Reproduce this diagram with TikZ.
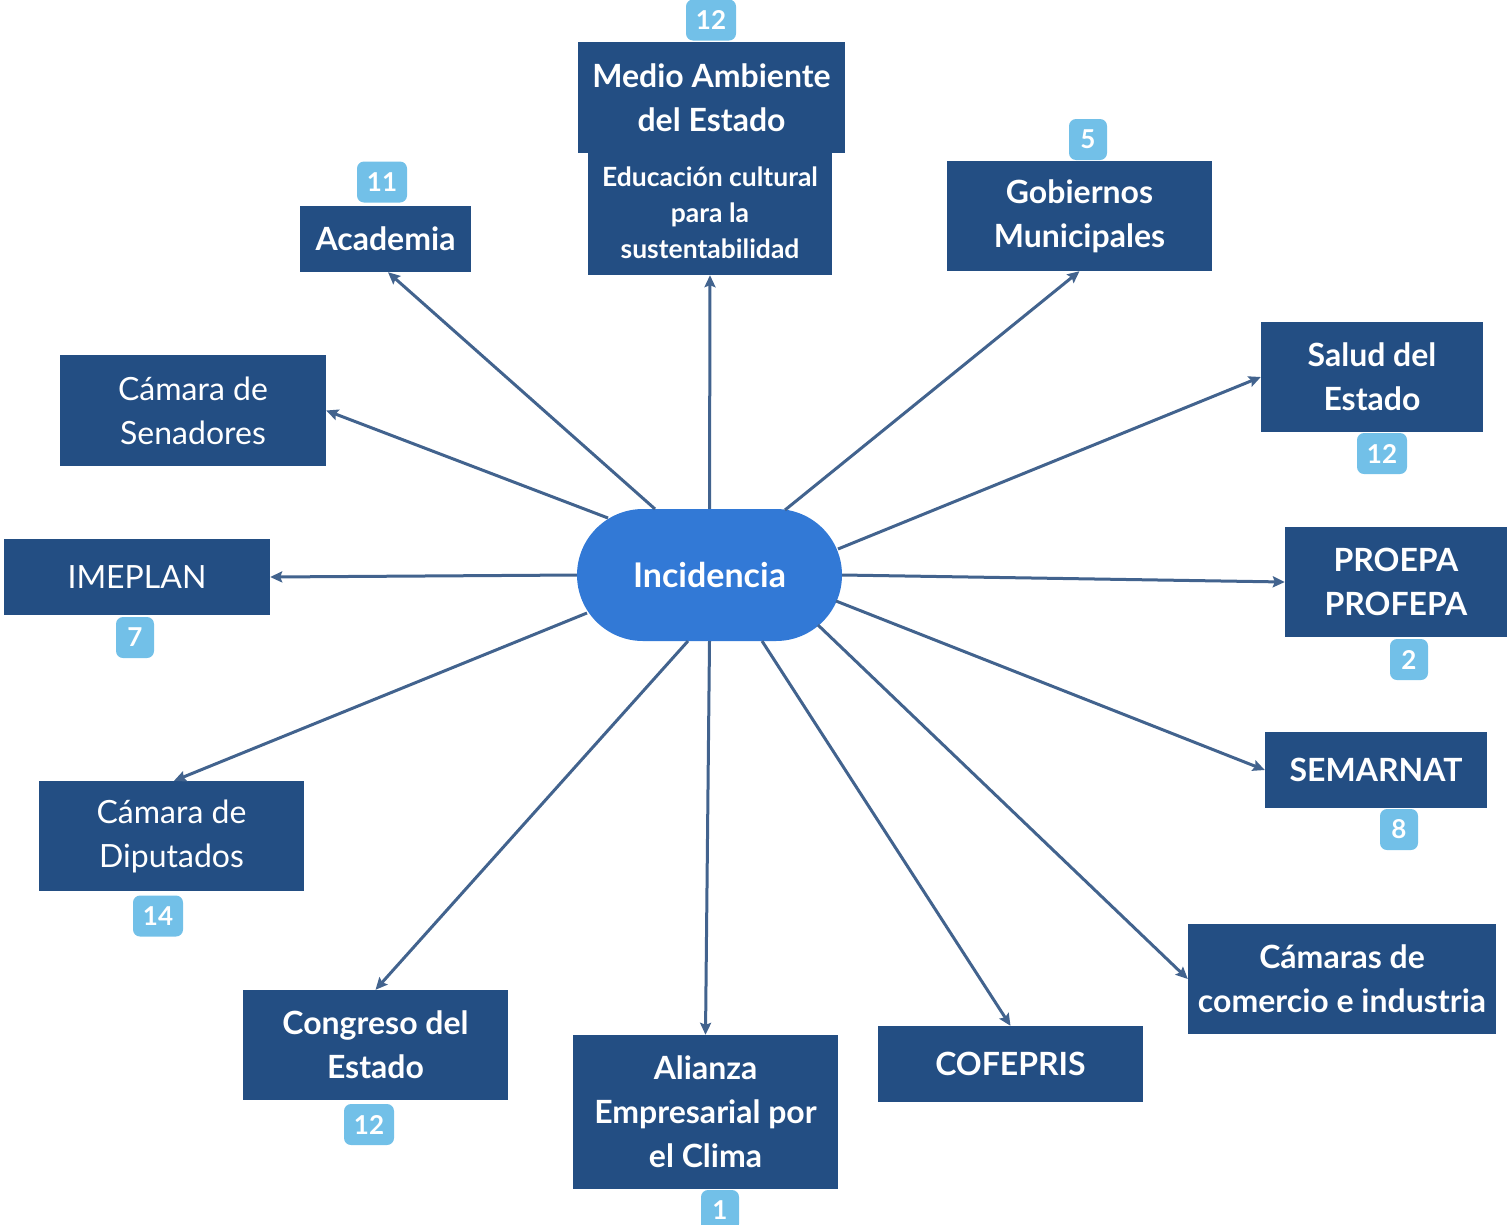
\documentclass[tikz,border=0pt]{standalone}
\usepackage{fontspec}
\setmainfont{Lato}
\usetikzlibrary{arrows.meta,calc}
\definecolor{boxc}{RGB}{35,78,131}
\definecolor{incc}{RGB}{50,121,214}
\definecolor{arrc}{RGB}{66,99,142}
\definecolor{badgec}{RGB}{114,192,232}
\tikzset{
  box/.style={fill=boxc,text=white,inner sep=0pt,align=center,font=\bfseries\fontsize{32}{44}\selectfont},
  boxr/.style={box,font=\fontsize{32}{44}\selectfont},
  badge/.style={fill=badgec,text=white,inner sep=0pt,rounded corners=7pt,minimum height=41pt,font=\bfseries\fontsize{26}{28}\selectfont},
  arr/.style={draw=arrc,line width=3pt,-{Stealth[length=12pt,width=11pt,inset=2pt]}}
}
\begin{document}
\begin{tikzpicture}[x=1pt,y=-1pt]
\useasboundingbox (0,0) rectangle (1510,1224);
% boxes
\node[box,minimum width=267pt,minimum height=111pt] (med) at (711.5,97.5) {Medio Ambiente\\del Estado};
\node[box,minimum width=244pt,minimum height=124pt,font=\bfseries\fontsize{26.5}{36}\selectfont] (edu) at (710,213) {Educación cultural\\para la\\sustentabilidad};
\node[badge,minimum width=50pt] (b1) at (711,20) {12};
\node[box,minimum width=171pt,minimum height=66pt] (aca) at (385.5,239) {Academia};
\node[badge,minimum width=50pt] (b2) at (382,182) {11};
\node[box,minimum width=265pt,minimum height=110pt] (gob) at (1079.5,216) {Gobiernos\\Municipales};
\node[badge,minimum width=38pt] (b3) at (1088,139.5) {5};
\node[box,minimum width=222pt,minimum height=110pt] (sal) at (1372,377) {Salud del\\Estado};
\node[badge,minimum width=50pt] (b4) at (1382,453.5) {12};
\node[box,minimum width=222pt,minimum height=110pt] (pro) at (1396,582) {PROEPA\\PROFEPA};
\node[badge,minimum width=38pt] (b5) at (1409,659.5) {2};
\node[box,minimum width=222pt,minimum height=76pt] (sem) at (1376,770) {SEMARNAT};
\node[badge,minimum width=38pt] (b6) at (1399,829.5) {8};
\node[box,minimum width=308pt,minimum height=110pt] (com) at (1342,979) {Cámaras de\\comercio e industria};
\node[box,minimum width=265pt,minimum height=76pt] (cof) at (1010.5,1064) {COFEPRIS};
\node[box,minimum width=265pt,minimum height=154pt] (ali) at (705.5,1112) {Alianza\\Empresarial por\\el Clima};
\node[badge,minimum width=38pt] (b7) at (720,1210.5) {1};
\node[box,minimum width=265pt,minimum height=110pt] (con) at (375.5,1045) {Congreso del\\Estado};
\node[badge,minimum width=50pt] (b8) at (369,1124.5) {12};
\node[boxr,minimum width=265pt,minimum height=110pt] (dip) at (171.5,836) {Cámara de\\Diputados};
\node[badge,minimum width=50pt] (b9) at (158,916) {14};
\node[boxr,minimum width=266pt,minimum height=76pt] (ime) at (137,577) {IMEPLAN};
\node[badge,minimum width=38pt] (b10) at (135,637.5) {7};
\node[boxr,minimum width=266pt,minimum height=111pt] (sen) at (193,410.5) {Cámara de\\Senadores};
% center
\node[fill=incc,text=white,inner sep=0pt,rounded corners=66pt,minimum width=265pt,minimum height=132pt,font=\bfseries\fontsize{34}{40}\selectfont] (inc) at (709.5,575) {Incidencia};
% connectors
\draw[arr] ($(inc.center)+(-54.5,-66)$) -- ($(aca.south)+(2.5,0)$);
\draw[arr] (inc.north) -- (edu.south);
\draw[arr] ($(inc.center)+(75.5,-65)$) -- (gob.south);
\draw[arr] ($(inc.center)+(128.5,-26)$) -- (sal.west);
\draw[arr] (inc.east) -- (pro.west);
\draw[arr] ($(inc.center)+(126.5,26)$) -- (sem.west);
\draw[arr] ($(inc.center)+(108.5,50)$) -- (com.west);
\draw[arr] ($(inc.center)+(52.5,66)$) -- (cof.north);
\draw[arr] (inc.south) -- (ali.north);
\draw[arr] ($(inc.center)+(-21.5,66)$) -- (con.north);
\draw[arr] ($(inc.center)+(-122.5,38)$) -- ($(dip.north)+(2.5,0)$);
\draw[arr] (inc.west) -- (ime.east);
\draw[arr] ($(inc.center)+(-101.5,-57)$) -- (sen.east);
\end{tikzpicture}
\end{document}
